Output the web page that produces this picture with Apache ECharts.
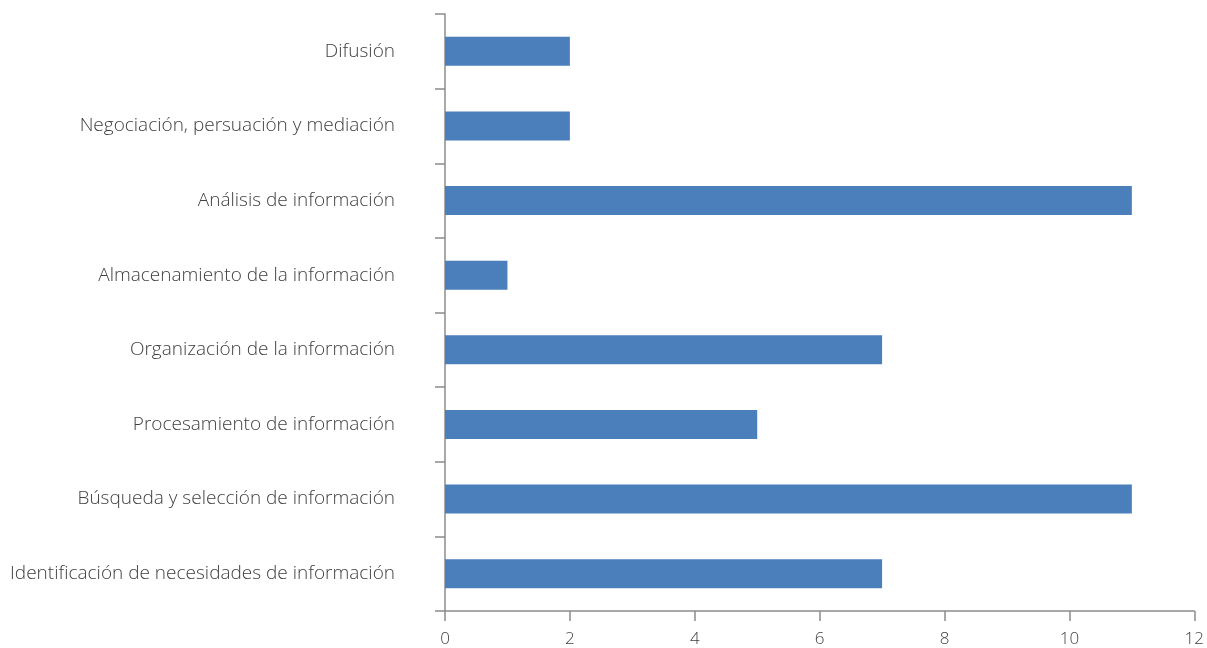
<!DOCTYPE html>
<html>
<head>
<meta charset="utf-8">
<script src="https://cdn.jsdelivr.net/npm/echarts@6/dist/echarts.min.js"></script>
<style>
html,body{margin:0;padding:0;background:#fff;}
#chart{width:1207px;height:648px;}
</style>
</head>
<body>
<div id="chart"></div>
<script>
const categories = [
  "Difusión",
  "Negociación, persuación y mediación",
  "Análisis de información",
  "Almacenamiento de la información",
  "Organización de la información",
  "Procesamiento de información",
  "Búsqueda y selección de información",
  "Identificación de necesidades de información"
];
const values = [2, 2, 11, 1, 7, 5, 11, 7];
const xTicks = [0, 2, 4, 6, 8, 10, 12];

const chart = echarts.init(document.getElementById('chart'), null, {renderer: 'canvas'});
chart.setOption({
  animation: false,
  grid: {left: 445, right: 6, top: 14, bottom: 37, containLabel: false},
  xAxis: {
    type: 'value', min: xTicks[0], max: xTicks[xTicks.length - 1], interval: 2,
    splitLine: {show: false},
    axisLine: {show: true, lineStyle: {color: '#8c8c8c', width: 1.5}},
    axisTick: {show: true, length: 10, lineStyle: {color: '#8c8c8c', width: 1.5}},
    axisLabel: {color: '#404040', fontSize: 17, fontFamily: 'Open Sans', fontWeight: 300, margin: 20}
  },
  yAxis: {
    type: 'category', data: categories, inverse: true,
    axisLine: {show: true, lineStyle: {color: '#8c8c8c', width: 1.5}},
    axisTick: {show: true, length: 10, lineStyle: {color: '#8c8c8c', width: 1.5}},
    axisLabel: {color: '#404040', fontSize: 19, fontFamily: 'Open Sans', fontWeight: 300, margin: 50}
  },
  series: [{
    type: 'bar', data: values, barWidth: 29,
    itemStyle: {color: '#4a7fbc'}
  }]
});
</script>
</body>
</html>
